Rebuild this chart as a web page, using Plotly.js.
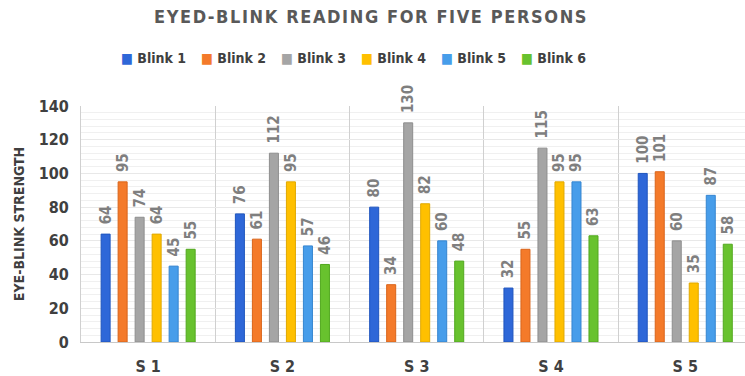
<!DOCTYPE html>
<html><head><meta charset="utf-8">
<script src="https://cdn.plot.ly/plotly-3.0.1.min.js"></script>
<style>body{margin:0;background:#fff}#c{width:745px;height:376px}</style>
</head><body><div id="c"></div>
<script>
const categories = ["S 1", "S 2", "S 3", "S 4", "S 5"];
const seriesNames = ["Blink 1", "Blink 2", "Blink 3", "Blink 4", "Blink 5", "Blink 6"];
const blink1 = [64, 76, 80, 32, 100];
const blink2 = [95, 61, 34, 55, 101];
const blink3 = [74, 112, 130, 115, 60];
const blink4 = [64, 95, 82, 95, 35];
const blink5 = [45, 57, 60, 95, 87];
const blink6 = [55, 46, 48, 63, 58];
const seriesValues = [blink1, blink2, blink3, blink4, blink5, blink6];
const colors = ["#2E67D8", "#F47A2A", "#A5A5A5", "#FFC000", "#479DEA", "#68C22E"];
const lineColors = ["#1F55BE", "#D9641A", "#8E8E8E", "#E0A800", "#3585D0", "#52A81F"];
const FONT = "DejaVu Sans Condensed, Liberation Sans Narrow, Roboto, sans-serif";

const traces = seriesValues.map((vals, i) => ({
  type: "bar",
  name: seriesNames[i],
  x: categories,
  y: vals,
  marker: {color: colors[i], line: {color: lineColors[i], width: 1}},
  texttemplate: "\u2002%{y}",
  textposition: "outside",
  textangle: -90,
  constraintext: "none",
  cliponaxis: false,
  textfont: {family: FONT, size: 15, color: "#7F7F7F", weight: "bold"},
  hoverinfo: "x+y+name"
}));

// custom legend (text annotations) to match compact spacing
const plotLeft = 81, plotW = 664;
const legendAnn = seriesNames.map((n, i) => ({
  xref: "paper", yref: "paper",
  x: (119 + 80 * i - plotLeft) / plotW, xanchor: "left",
  y: (342 - 58) / 236, yanchor: "middle",
  showarrow: false,
  text: '<span style="color:' + colors[i] + '">\u25A0</span> ' + n,
  font: {family: FONT, size: 14, color: "#404040", weight: "bold"}
}));

const layout = {
  width: 745, height: 376,
  margin: {l: 81, r: 0, t: 106, b: 34},
  paper_bgcolor: "#fff", plot_bgcolor: "#fff",
  title: {text: "EYED-BLINK READING FOR FIVE PERSONS".split("").join("\u200A"),
          x: 0.497, xanchor: "center", y: 0.955, yanchor: "middle",
          font: {family: FONT, size: 18, color: "#595959", weight: "bold"}},
  barmode: "group",
  bargap: 0.24,
  bargroupgap: 0.47,
  showlegend: false,
  annotations: legendAnn,
  xaxis: {
    range: [-0.5, 4.445],
    tickson: "boundaries", showgrid: true, gridcolor: "#D0D0D0", gridwidth: 1,
    ticks: "", showline: true, linecolor: "#C8C8C8", linewidth: 1,
    tickfont: {family: FONT, size: 16, color: "#404040", weight: "bold"},
    ticklabelstandoff: 10, fixedrange: true
  },
  yaxis: {
    range: [0, 140], dtick: 20, tick0: 0,
    showgrid: true, gridcolor: "#E8E8E8", gridwidth: 1,
    minor: {dtick: 4, showgrid: true, gridcolor: "#F0F0F0", gridwidth: 1},
    showline: true, linecolor: "#D0D0D0", linewidth: 1,
    zeroline: false, ticks: "",
    tickfont: {family: FONT, size: 16, color: "#404040", weight: "bold"},
    ticklabelstandoff: 8,
    title: {text: "EYE-BLINK STRENGTH", standoff: 10,
            font: {family: FONT, size: 14, color: "#404040", weight: "bold"}},
    fixedrange: true
  }
};

Plotly.newPlot("c", traces, layout, {displayModeBar: false, staticPlot: true});
</script></body></html>
